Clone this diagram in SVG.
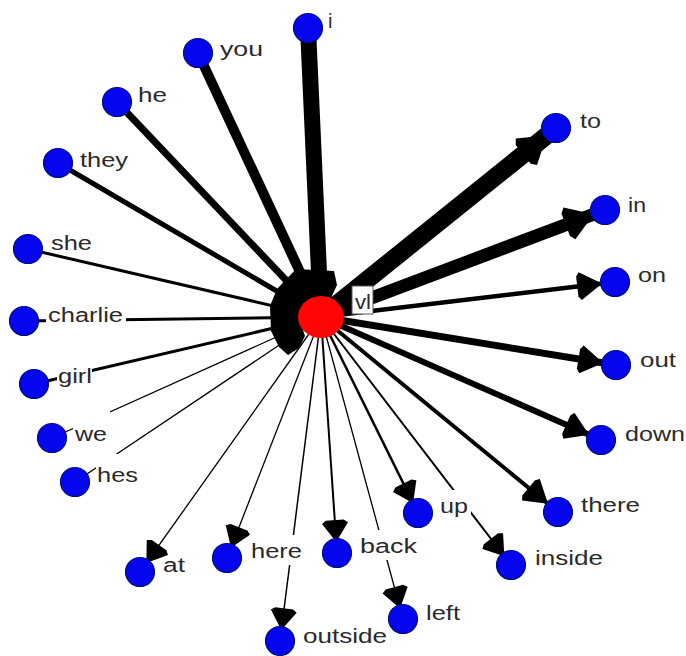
<svg xmlns="http://www.w3.org/2000/svg" width="686" height="656" viewBox="0 0 686 656">
<style>
.lbl{font-family:"Liberation Sans",Arial,sans-serif;font-size:20px;fill:#2a2a2a;}
.bg{fill:#fff;stroke:none;}
.node{fill:#0505ee;stroke:#00107a;stroke-width:1.2;}
.e{stroke:#000;fill:none;}
</style>
<defs>
<marker id="aL" markerUnits="userSpaceOnUse" orient="auto" refX="0" refY="0" markerWidth="60" markerHeight="40" viewBox="-50 -20 60 40" overflow="visible"><path d="M-12,0 L-38,-17 L-42,-12 L-42,12 L-38,17 Z" fill="#000"/></marker>
<marker id="aM" markerUnits="userSpaceOnUse" orient="auto" refX="0" refY="0" markerWidth="60" markerHeight="40" viewBox="-50 -20 60 40" overflow="visible"><path d="M-13,0 L-35,-14 L-38,-10 L-38,10 L-35,14 Z" fill="#000"/></marker>
<marker id="aS" markerUnits="userSpaceOnUse" orient="auto" refX="0" refY="0" markerWidth="60" markerHeight="40" viewBox="-50 -20 60 40" overflow="visible"><path d="M-11,0 L-30,-13 L-33,-9 L-33,9 L-30,13 Z" fill="#000"/></marker>
</defs>
<rect width="686" height="656" fill="#fff"/>
<g id="connectors" class="e">
<line x1="308" y1="28" x2="321" y2="317" stroke-width="16"/>
<line x1="198" y1="53" x2="321" y2="317" stroke-width="10"/>
<line x1="117" y1="102" x2="321" y2="317" stroke-width="7"/>
<line x1="58" y1="163" x2="321" y2="317" stroke-width="5"/>
<line x1="28" y1="249" x2="321" y2="317" stroke-width="3"/>
<line x1="24" y1="321" x2="321" y2="317" stroke-width="3"/>
<line x1="34" y1="384" x2="321" y2="317" stroke-width="3"/>
<line x1="52" y1="438" x2="321" y2="317" stroke-width="1.3"/>
<line x1="75" y1="482" x2="321" y2="317" stroke-width="1.3"/>
<line x1="321" y1="317" x2="556" y2="128" stroke-width="18" marker-end="url(#aL)"/>
<line x1="321" y1="317" x2="605" y2="210" stroke-width="13" marker-end="url(#aL)"/>
<line x1="321" y1="317" x2="615" y2="282" stroke-width="4.5" marker-end="url(#aM)"/>
<line x1="321" y1="317" x2="616" y2="365" stroke-width="7" marker-end="url(#aM)"/>
<line x1="321" y1="317" x2="601" y2="440" stroke-width="6" marker-end="url(#aM)"/>
<line x1="321" y1="317" x2="558" y2="512" stroke-width="4" marker-end="url(#aM)"/>
<line x1="321" y1="317" x2="511" y2="565" stroke-width="2" marker-end="url(#aS)"/>
<line x1="321" y1="317" x2="418" y2="513" stroke-width="2.5" marker-end="url(#aS)"/>
<line x1="321" y1="317" x2="403" y2="619" stroke-width="1.3" marker-end="url(#aS)"/>
<line x1="321" y1="317" x2="337" y2="553" stroke-width="2" marker-end="url(#aS)"/>
<line x1="321" y1="317" x2="280" y2="641" stroke-width="1.5" marker-end="url(#aS)"/>
<line x1="321" y1="317" x2="227" y2="558" stroke-width="1.3" marker-end="url(#aS)"/>
<line x1="321" y1="317" x2="140" y2="572" stroke-width="1.3" marker-end="url(#aS)"/>
<path d="M296,269 L334,271 L337,285 L331,298 L320,296 L303,302 L299,318 L305,336 L299,348 L288,355 L279,347 L271,331 L270,306 L277,289 Z" fill="#000" stroke="none"/>
</g>
<g id="node-vl">
<ellipse cx="321" cy="317" rx="23" ry="21" fill="#ff0505"/>
<rect x="352" y="286" width="21" height="28" fill="#fff" stroke="#555" stroke-width="1"/>
<text class="lbl" x="355" y="309" textLength="16" lengthAdjust="spacingAndGlyphs">vl</text>
</g>
<g id="node-i"><circle class="node" cx="308" cy="28" r="14.5"/><text class="lbl" x="328" y="28">i</text></g>
<g id="node-you"><circle class="node" cx="198" cy="53" r="14.5"/><text class="lbl" x="220" y="56" textLength="43" lengthAdjust="spacingAndGlyphs">you</text></g>
<g id="node-he"><circle class="node" cx="117" cy="102" r="14.5"/><text class="lbl" x="138" y="102" textLength="29" lengthAdjust="spacingAndGlyphs">he</text></g>
<g id="node-they"><circle class="node" cx="58" cy="163" r="14.5"/><text class="lbl" x="80" y="167" textLength="48" lengthAdjust="spacingAndGlyphs">they</text></g>
<g id="node-she"><circle class="node" cx="28" cy="249" r="14.5"/><text class="lbl" x="51" y="250" textLength="41" lengthAdjust="spacingAndGlyphs">she</text></g>
<g id="node-charlie"><rect class="bg" x="46" y="304" width="80" height="24"/><circle class="node" cx="24" cy="321" r="14.5"/><text class="lbl" x="48" y="322" textLength="75" lengthAdjust="spacingAndGlyphs">charlie</text></g>
<g id="node-girl"><rect class="bg" x="57" y="366" width="35" height="26"/><circle class="node" cx="34" cy="384" r="14.5"/><text class="lbl" x="58" y="383" textLength="34" lengthAdjust="spacingAndGlyphs">girl</text></g>
<g id="node-we"><rect class="bg" x="73" y="409" width="37" height="38"/><circle class="node" cx="52" cy="438" r="14.5"/><text class="lbl" x="75" y="441" textLength="32" lengthAdjust="spacingAndGlyphs">we</text></g>
<g id="node-hes"><rect class="bg" x="96" y="454" width="44" height="34"/><circle class="node" cx="75" cy="482" r="14.5"/><text class="lbl" x="97" y="482" textLength="41" lengthAdjust="spacingAndGlyphs">hes</text></g>
<g id="node-at"><circle class="node" cx="140" cy="572" r="14.5"/><text class="lbl" x="163" y="572" textLength="22" lengthAdjust="spacingAndGlyphs">at</text></g>
<g id="node-here"><rect class="bg" x="249" y="535" width="56" height="30"/><circle class="node" cx="227" cy="558" r="14.5"/><text class="lbl" x="251" y="558" textLength="51" lengthAdjust="spacingAndGlyphs">here</text></g>
<g id="node-outside"><circle class="node" cx="280" cy="641" r="14.5"/><text class="lbl" x="303" y="643" textLength="84" lengthAdjust="spacingAndGlyphs">outside</text></g>
<g id="node-back"><rect class="bg" x="357" y="530" width="62" height="30"/><circle class="node" cx="337" cy="553" r="14.5"/><text class="lbl" x="360" y="553" textLength="57" lengthAdjust="spacingAndGlyphs">back</text></g>
<g id="node-left"><circle class="node" cx="403" cy="619" r="14.5"/><text class="lbl" x="426" y="620" textLength="34" lengthAdjust="spacingAndGlyphs">left</text></g>
<g id="node-up"><rect class="bg" x="437" y="490" width="34" height="30"/><circle class="node" cx="418" cy="513" r="14.5"/><text class="lbl" x="440" y="513" textLength="28" lengthAdjust="spacingAndGlyphs">up</text></g>
<g id="node-inside"><circle class="node" cx="511" cy="565" r="14.5"/><text class="lbl" x="535" y="565" textLength="68" lengthAdjust="spacingAndGlyphs">inside</text></g>
<g id="node-there"><circle class="node" cx="558" cy="512" r="14.5"/><text class="lbl" x="581" y="512" textLength="59" lengthAdjust="spacingAndGlyphs">there</text></g>
<g id="node-down"><circle class="node" cx="601" cy="440" r="14.5"/><text class="lbl" x="625" y="441" textLength="60" lengthAdjust="spacingAndGlyphs">down</text></g>
<g id="node-out"><circle class="node" cx="616" cy="365" r="14.5"/><text class="lbl" x="640" y="367" textLength="36" lengthAdjust="spacingAndGlyphs">out</text></g>
<g id="node-on"><circle class="node" cx="615" cy="282" r="14.5"/><text class="lbl" x="638" y="282" textLength="28" lengthAdjust="spacingAndGlyphs">on</text></g>
<g id="node-in"><circle class="node" cx="605" cy="210" r="14.5"/><text class="lbl" x="628" y="212" textLength="18" lengthAdjust="spacingAndGlyphs">in</text></g>
<g id="node-to"><circle class="node" cx="556" cy="128" r="14.5"/><text class="lbl" x="580" y="128" textLength="21" lengthAdjust="spacingAndGlyphs">to</text></g>
</svg>
